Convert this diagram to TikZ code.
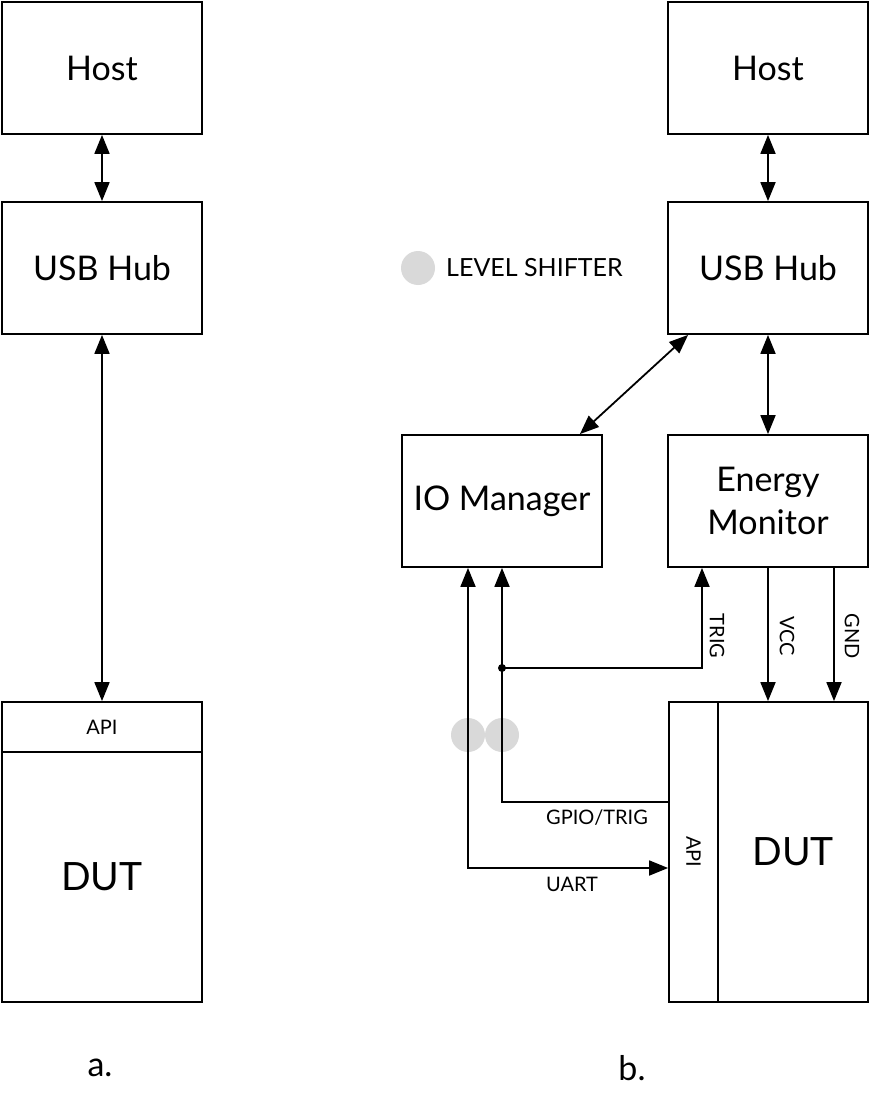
\documentclass[tikz,border=0pt]{standalone}
\usepackage{fontspec}
\setmainfont{Lato}
\usetikzlibrary{arrows.meta,calc}
\begin{document}
\begin{tikzpicture}[x=1pt,y=-1pt,
  blk/.style={draw,line width=1.8pt,minimum width=200pt,minimum height=132pt,inner sep=0pt,font=\fontsize{34}{43}\selectfont,align=center},
  conn/.style={line width=1.8pt},
  tip/.style={-{Triangle[length=19pt,width=15pt]}},
  btip/.style={{Triangle[length=19pt,width=15pt]}-{Triangle[length=19pt,width=15pt]}},
  lbl/.style={font=\fontsize{20}{24}\selectfont,inner sep=0pt},
  lsc/.style={circle,fill=black!15,minimum size=34pt,inner sep=0pt}]
\useasboundingbox (0,0) rectangle (870,1102);
% level shifter circles (behind lines)
\node[lsc] (ls1) at (468,735) {};
\node[lsc] (ls2) at (502,735) {};
\node[lsc] (lsleg) at (418,268) {};
\node[anchor=west,inner sep=0pt,font=\fontsize{25}{30}\selectfont] (lstext) at (446,268) {LEVEL SHIFTER};
% --- a ---
\node[blk] (hosta) at (102,68) {Host};
\node[blk] (usba) at (102,268) {USB Hub};
\node[blk,minimum height=50pt,font=\fontsize{20}{24}\selectfont] (apia) at (102,727) {API};
\node[blk,minimum height=250pt,font=\fontsize{39}{44}\selectfont] (duta) at (102,877) {DUT};
\node[font=\fontsize{34}{40}\selectfont] (la) at (100,1068) {a.};
\draw[conn,btip] (hosta.south) -- (usba.north);
\draw[conn,btip] (usba.south) -- (apia.north);
% --- b ---
\node[blk] (hostb) at (768,68) {Host};
\node[blk] (usbb) at (768,268) {USB Hub};
\node[blk] (iom) at (502,501) {IO Manager};
\node[blk] (em) at (768,501) {Energy\\Monitor};
\node[blk,minimum width=49pt,minimum height=300pt] (apib) at (693.5,852) {};
\node[lbl,rotate=-90] (apibt) at (693.5,852) {API};
\node[blk,minimum width=150pt,minimum height=300pt,font=\fontsize{39}{44}\selectfont] (dutb) at (793,852) {DUT};
\node[font=\fontsize{34}{40}\selectfont] (lb) at (632,1068) {b.};
\draw[conn,btip] (hostb.south) -- (usbb.north);
\draw[conn,btip] (usbb.south) -- (em.north);
\draw[conn,btip] ($(usbb.south west)+(21,0)$) -- ($(iom.north east)+(-23,0)$);
% coordinates
\coordinate (uartc) at (468,868);
\coordinate (gpioc) at (502,802);
\coordinate (junc) at (502,668);
\coordinate (trigc) at (702,668);
\draw[conn,btip] (iom.south -| uartc) -- (uartc) -- (apib.west |- uartc);
\draw[conn,tip] (apib.west |- gpioc) -- (gpioc) -- (iom.south -| gpioc);
\draw[conn,tip] (junc) -- (trigc) -- (em.south -| trigc);
\fill (junc) circle (4pt);
\coordinate (vccx) at (768,0);
\coordinate (gndx) at (834,0);
\draw[conn,tip] (em.south -| vccx) -- (dutb.north -| vccx);
\draw[conn,tip] (em.south -| gndx) -- (dutb.north -| gndx);
\node[lbl,rotate=-90] (trigl) at (717,636) {TRIG};
\node[lbl,rotate=-90] (vccl) at (787,636) {VCC};
\node[lbl,rotate=-90] (gndl) at (852,636) {GND};
\node[lbl] (gpiol) at (597,818) {GPIO/TRIG};
\node[lbl] (uartl) at (572,884) {UART};
\end{tikzpicture}
\end{document}
